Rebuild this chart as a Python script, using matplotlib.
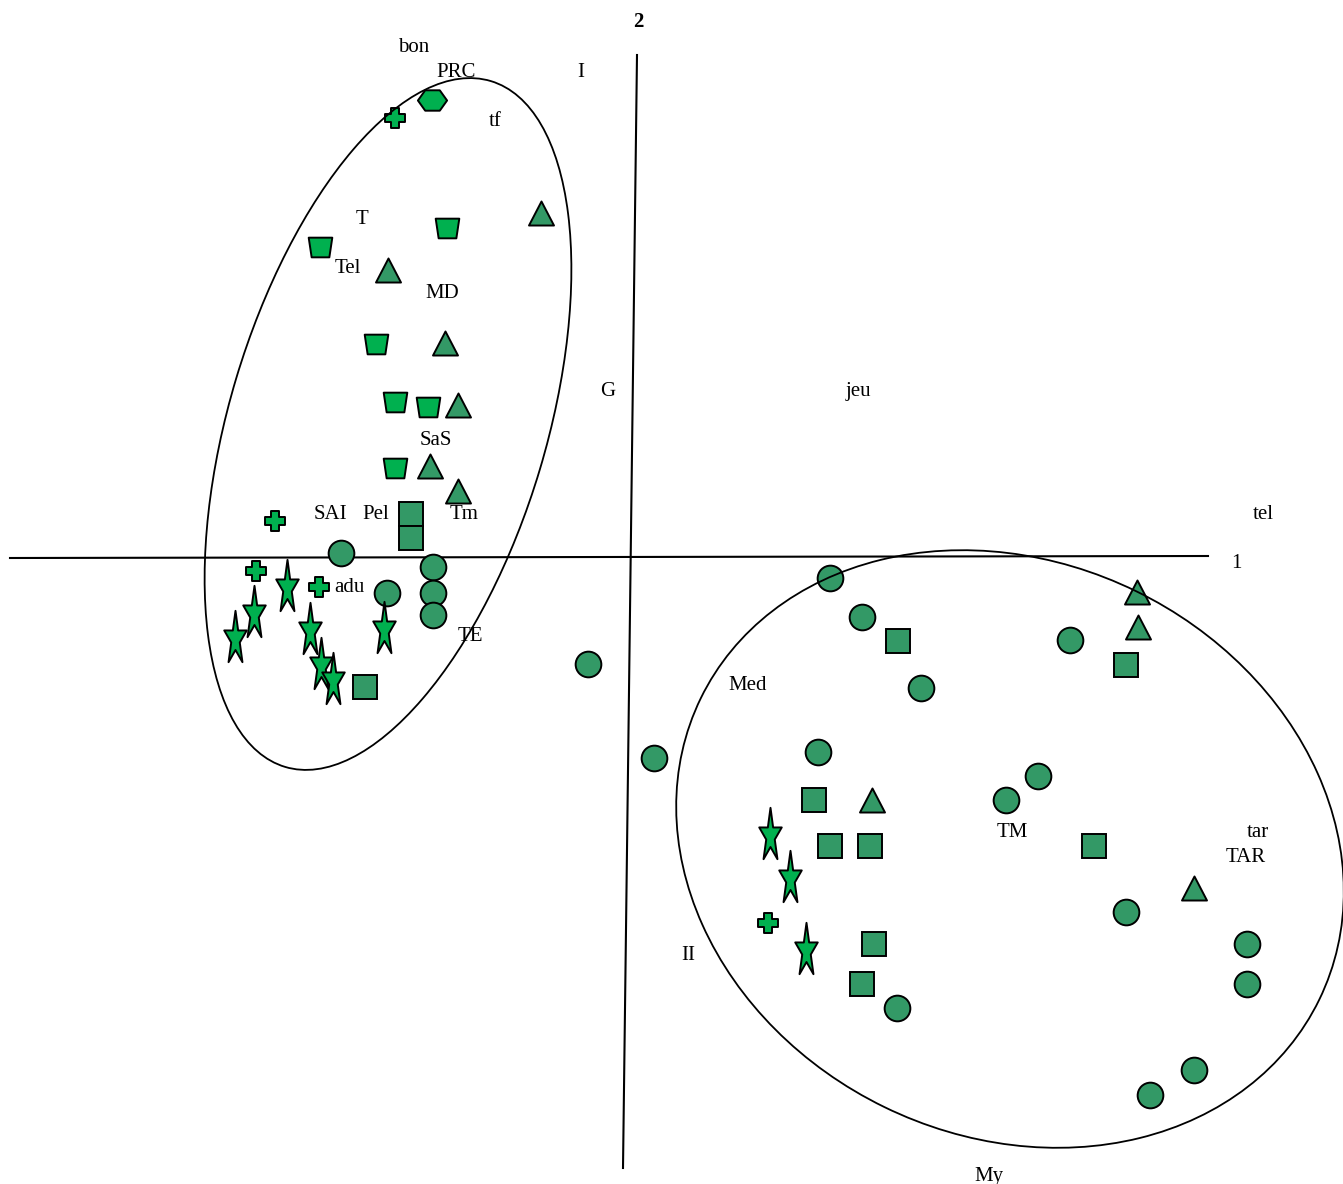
import numpy as np
import matplotlib
matplotlib.use("Agg")
import matplotlib.pyplot as plt
from matplotlib.path import Path
from matplotlib.patches import Ellipse

# factor scores (axis 1, axis 2) for each group of individuals
hexagon_pts = [(-1.98, 4.58)]
cross_pts = [(-2.35, 4.40), (-3.55, 0.37), (-3.74, -0.13), (-3.11, -0.29), (1.38, -3.65)]
trapeze_pts = [(-3.10, 3.11), (-1.83, 3.30), (-2.54, 2.14), (-2.35, 1.56), (-2.02, 1.51), (-2.35, 0.90)]
triangle_pts = [(-0.89, 3.45), (-2.42, 2.88), (-1.85, 2.15), (-1.72, 1.53), (-2.00, 0.92), (-1.72, 0.67),
                (5.07, -0.34), (5.08, -0.69), (2.42, -2.42), (5.64, -3.30)]
square_pts = [(-2.19, 0.44), (-2.19, 0.20), (-2.65, -1.29),
              (2.68, -0.83), (4.96, -1.07), (1.84, -2.42), (2.00, -2.88), (2.40, -2.88),
              (4.64, -2.88), (2.44, -3.86), (2.32, -4.26)]
circle_pts = [(-2.89, 0.05), (-1.97, -0.09), (-2.43, -0.35), (-1.97, -0.35), (-1.97, -0.57),
              (-0.42, -1.06), (0.24, -2.00),
              (2.00, -0.20), (2.32, -0.59), (2.91, -1.30), (4.40, -0.82), (1.88, -1.94),
              (3.76, -2.42), (4.08, -2.18), (4.96, -3.54), (6.17, -3.86), (6.17, -4.26),
              (5.64, -5.12), (5.20, -5.37), (2.67, -4.50)]
star_pts = [(-3.43, -0.27), (-3.76, -0.53), (-3.95, -0.78), (-3.20, -0.70), (-3.09, -1.05),
            (-2.97, -1.20), (-2.46, -0.69), (1.40, -2.75), (1.60, -3.18), (1.76, -3.90)]

# variable modalities written on the plane
labels = ["bon", "PRC", "I", "tf", "T", "Tel", "MD", "G", "jeu", "SaS", "SAI", "Pel", "Tm",
          "tel", "adu", "TE", "Med", "TM", "tar", "TAR", "II", "My"]
label_x = [-2.16, -1.74, -0.49, -1.35, -2.68, -2.82, -1.88, -0.22, 2.28, -1.94, -3.00, -2.54,
           -1.66, 6.33, -2.81, -1.60, 1.18, 3.82, 6.28, 6.16, 0.58, 3.59]
label_y = [5.13, 4.88, 4.88, 4.39, 3.41, 2.92, 2.67, 1.69, 1.69, 1.20, 0.46, 0.46, 0.46,
           0.46, -0.27, -0.76, -1.25, -2.72, -2.72, -2.97, -3.95, -6.16]

GREEN = "#00B04F"
SEA = "#339966"


def centered(verts):
    v = np.asarray(verts, float)
    mid = (v.max(axis=0) + v.min(axis=0)) / 2
    v = v - mid
    return Path(np.vstack([v, v[:1]]), closed=True)


k = np.arange(10)
ang = np.pi / 2 + k * np.pi / 5
r = np.where(k % 2 == 0, 1.0, 0.38)
STAR = centered(np.c_[r * np.cos(ang), r * np.sin(ang) * 2.4])
TRAP = centered([(-0.6, 0.5), (0.6, 0.5), (0.45, -0.5), (-0.45, -0.5)])
HEX = centered([(-1, 0), (-0.5, 0.7), (0.5, 0.7), (1, 0), (0.5, -0.7), (-0.5, -0.7)])
a, w = 1.0, 0.42
CROSS = centered([(-w, a), (w, a), (w, w), (a, w), (a, -w), (w, -w), (w, -a), (-w, -a),
                  (-w, -w), (-a, -w), (-a, w), (-w, w)])
TRI = centered([(-0.52, -0.5), (0.52, -0.5), (0, 0.5)])

fig = plt.figure(figsize=(13.43, 11.84), dpi=100)
ax = fig.add_axes([0, 0, 1, 1])
ax.set_xlim(-6.30, 7.13)
ax.set_ylim(-6.26, 5.58)
ax.axis("off")

# factorial axes
ax.plot([-6.20, 5.78], [0.0, 0.02], color="black", lw=1.5, zorder=1)
ax.plot([0.07, -0.07], [5.03, -6.10], color="black", lw=1.5, zorder=1)
ax.text(6.06, -0.05, "1", fontsize=15, family="Liberation Serif", ha="center", va="center")
ax.text(0.08, 5.36, "2", fontsize=15, family="Liberation Serif", weight="bold",
        ha="center", va="center")

# group ellipses
ax.add_patch(Ellipse((-2.42, 1.34), 3.17, 7.16, angle=-16.7, fill=False, lw=1.3,
                     color="black", zorder=4))
ax.add_patch(Ellipse((3.80, -2.91), 6.88, 5.74, angle=-26, fill=False, lw=1.3,
                     color="black", zorder=4))


def draw(pts, marker, size, color):
    xs, ys = zip(*pts)
    ax.plot(xs, ys, ls="none", marker=marker, ms=size, mfc=color, mec="black",
            mew=1.4, zorder=3, solid_joinstyle="round")


draw(circle_pts, "o", 18.5, SEA)
draw(square_pts, "s", 17.5, SEA)
draw(triangle_pts, TRI, 18, SEA)
draw(trapeze_pts, TRAP, 17, GREEN)
draw(hexagon_pts, HEX, 21, GREEN)
draw(cross_pts, CROSS, 14, GREEN)
draw(star_pts, STAR, 37, GREEN)

for s, x, y in zip(labels, label_x, label_y):
    ax.text(x, y - 0.025, s, fontsize=15, family="Liberation Serif", ha="center",
            va="center", zorder=2)

fig.savefig("out.png", dpi=100)
